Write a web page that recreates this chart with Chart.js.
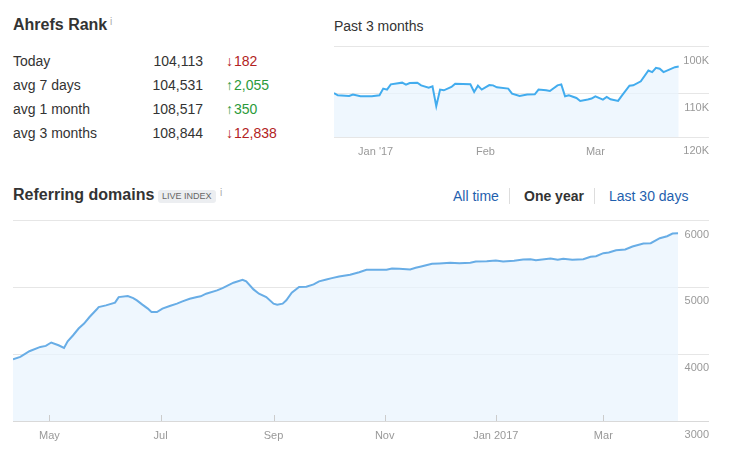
<!DOCTYPE html>
<html><head><meta charset="utf-8">
<script src="https://cdn.jsdelivr.net/npm/chart.js@4.4.1/dist/chart.umd.min.js"></script>
<style>
html,body{margin:0;padding:0;background:#fff;}
body{width:730px;height:455px;position:relative;overflow:hidden;font-family:"Liberation Sans",Arial,Helvetica,sans-serif;color:#333;}
.t{position:absolute;white-space:nowrap;height:20px;line-height:20px;}
.h{font-size:16px;font-weight:bold;color:#333;}
.info{position:absolute;font-size:10px;color:#aaa;line-height:10px;}
.row{font-size:14px;}
.val{text-align:right;}
.up{color:#2b9a3b;}
.down{color:#b22222;}
.arr{font-size:14px;margin-right:1px;}
.badge{position:absolute;left:158px;top:190px;height:13px;line-height:13px;padding:0 4px;background:#eceef1;color:#666;font-size:9px;border-radius:3px;}
.nav{font-size:14px;color:#1f5fae;}
.sep{position:absolute;width:1px;height:16px;top:188px;background:#ddd;}
canvas{position:absolute;}
</style></head>
<body>
<div class="t h" style="left:13px;top:15px;">Ahrefs Rank</div>
<div class="info" style="left:110px;top:17px;">i</div>
<div id="tbl"></div>

<div class="t" style="left:334px;top:16px;font-size:14px;">Past 3 months</div>
<canvas id="rank" width="375" height="125" style="left:334px;top:40px;width:375px;height:125px;"></canvas>

<div class="t h" style="left:13px;top:185px;">Referring domains</div>
<div class="badge">LIVE INDEX</div>
<div class="info" style="left:220px;top:188px;">i</div>
<div class="t nav" style="left:453px;top:186px;">All time</div>
<div class="sep" style="left:509px;"></div>
<div class="t nav" style="left:524px;top:186px;color:#333;font-weight:bold;">One year</div>
<div class="sep" style="left:594px;"></div>
<div class="t nav" style="left:609px;top:186px;">Last 30 days</div>
<canvas id="rd" width="696" height="241" style="left:13px;top:214px;width:696px;height:241px;"></canvas>

<script>
// ---- Ahrefs Rank table ----
const rankRowLabels = ['Today', 'avg 7 days', 'avg 1 month', 'avg 3 months'];
const rankRowValues = [104113, 104531, 108517, 108844];
const rankRowChanges = [-182, 2055, 350, -12838];

// ---- Past 3 months (Ahrefs rank) ----
const rankDays = [0,1,4,5,7,10,12,13,14,15,18,19,20,22,23,25,26,27,28,29,31,32,36,37,38,39,41,42,43,46,47,49,51,53,54,56,57,59,60,61,62,64,65,67,68,69,71,72,73,75,76,78,79,81,83,84,85,86,87,90,91];
const rankValues = [109810,110320,110470,110160,110540,110540,110320,108840,109060,107910,107540,107970,107630,107540,108130,108630,108340,112770,109060,109220,108490,107760,107910,109590,108190,109060,108060,108130,108560,108840,109940,110470,110160,110090,109060,109220,109370,108130,107910,110540,110320,110910,111580,111270,111050,110540,111270,110690,111200,111580,110380,108190,108130,107260,104930,105280,104360,104570,105280,104230,104113];
const rankTickDays = [11, 40, 69];
const rankTickLabels = ["Jan '17", 'Feb', 'Mar'];
const rankYTicks = [100000, 110000, 120000];
const rankYLabels = ['100K', '110K', '120K'];

// ---- Referring domains (one year, day offsets from 2016-04-11) ----
const rdDays = [0,4,9,15,18,21,25,28,30,33,36,39,42,46,47,51,56,58,63,66,68,71,74,76,79,82,86,90,93,97,101,103,106,112,115,121,126,128,132,135,139,143,145,148,150,153,157,161,165,168,172,175,179,185,190,194,200,205,208,212,218,221,224,230,234,240,245,251,254,260,265,269,275,280,284,287,295,299,302,307,313,317,320,324,327,331,336,340,346,350,355,359,362,365];
const rdValues = [3925,3960,4045,4109,4124,4175,4134,4094,4194,4284,4384,4458,4557,4672,4706,4731,4772,4855,4870,4840,4806,4742,4682,4631,4631,4682,4721,4757,4791,4831,4855,4866,4906,4955,4990,5070,5115,5090,4970,4906,4855,4757,4742,4757,4806,4921,5005,5010,5045,5090,5119,5139,5164,5189,5228,5264,5264,5264,5284,5279,5269,5294,5313,5353,5358,5369,5363,5369,5388,5393,5403,5388,5399,5418,5422,5407,5433,5413,5428,5413,5422,5458,5467,5512,5522,5557,5567,5612,5657,5661,5736,5766,5806,5810];
const rdTickDays = [20, 81, 143, 204, 265, 324];
const rdTickLabels = ['May', 'Jul', 'Sep', 'Nov', 'Jan 2017', 'Mar'];
const rdYTicks = [3000, 4000, 5000, 6000];
const rdYLabels = ['3000', '4000', '5000', '6000'];

// build table
const tbl = document.getElementById('tbl');
rankRowLabels.forEach((lab, i) => {
  const top = 51 + 24 * i;
  const fmt = n => n.toLocaleString('en-US');
  const ch = rankRowChanges[i];
  tbl.insertAdjacentHTML('beforeend',
    `<div class="t row" style="left:13px;top:${top}px;">${lab}</div>` +
    `<div class="t row val" style="right:${730-203}px;top:${top}px;">${fmt(rankRowValues[i])}</div>` +
    `<div class="t row ${ch < 0 ? 'down' : 'up'}" style="left:226px;top:${top}px;"><span class="arr">${ch < 0 ? '\u2193' : '\u2191'}</span>${fmt(Math.abs(ch))}</div>`);
});

const axisFont = {family: '"Liberation Sans", Arial, sans-serif', size: 11};

const tickMarks = {
  id: 'tickMarks',
  afterDatasetsDraw(chart) {
    const x = chart.scales.x, ctx = chart.ctx, b = chart.chartArea.bottom;
    ctx.save();
    ctx.strokeStyle = '#ccc';
    ctx.lineWidth = 1;
    x.ticks.forEach(t => {
      const px = Math.round(x.getPixelForValue(t.value)) + 0.5;
      ctx.beginPath(); ctx.moveTo(px, b - 6); ctx.lineTo(px, b); ctx.stroke();
    });
    ctx.restore();
  }
};

// small rank chart
new Chart(document.getElementById('rank'), {
  type: 'line',
  data: { datasets: [{
    data: rankDays.map((d, i) => ({x: d, y: rankValues[i]})),
    borderColor: '#42acee', borderWidth: 2,
    backgroundColor: 'rgba(232,243,254,0.7)',
    fill: {value: 120000}, pointRadius: 0, tension: 0
  }]},
  options: {
    responsive: false, animation: false, devicePixelRatio: 1,
    layout: {padding: {top: 6, left: 0, right: 0, bottom: 0}},
    plugins: {legend: {display: false}, tooltip: {enabled: false}},
    scales: {
      x: {
        type: 'linear', min: 0, max: 99,
        grid: {display: false}, border: {display: false},
        afterBuildTicks: s => { s.ticks = rankTickDays.map(v => ({value: v})); },
        afterFit: s => { s.height = 28; },
        ticks: {autoSkip: false, maxRotation: 0, padding: 0, color: '#999', font: axisFont,
          callback: (v, i) => rankTickLabels[i]}
      },
      y: {
        type: 'logarithmic', position: 'right', reverse: true, min: 100000, max: 120000,
        grid: {color: '#e6e6e6', drawTicks: false}, border: {display: false},
        afterBuildTicks: s => { s.ticks = rankYTicks.map(v => ({value: v})); },
        afterFit: s => { s.width = 0; },
        ticks: {mirror: true, padding: 0, labelOffset: 14, color: '#999', font: axisFont,
          callback: (v, i) => rankYLabels[i]}
      }
    }
  }
});

// referring domains chart
new Chart(document.getElementById('rd'), {
  type: 'line',
  data: { datasets: [{
    data: rdDays.map((d, i) => ({x: d, y: rdValues[i]})),
    borderColor: '#68ade6', borderWidth: 2,
    backgroundColor: 'rgba(232,243,254,0.7)',
    fill: {value: 3000}, pointRadius: 0, tension: 0
  }]},
  options: {
    responsive: false, animation: false, devicePixelRatio: 1,
    layout: {padding: {top: 6, left: 0, right: 0, bottom: 0}},
    plugins: {legend: {display: false}, tooltip: {enabled: false}},
    scales: {
      x: {
        type: 'linear', min: 0, max: 382,
        grid: {display: false}, border: {display: false},
        afterBuildTicks: s => { s.ticks = rdTickDays.map(v => ({value: v})); },
        afterFit: s => { s.height = 34; },
        ticks: {autoSkip: false, maxRotation: 0, padding: 0, color: '#999', font: axisFont,
          callback: (v, i) => rdTickLabels[i]}
      },
      y: {
        position: 'right', min: 3000, max: 6000,
        grid: {color: c => c.tick && c.tick.value === 3000 ? '#d9d9d9' : '#e6e6e6', drawTicks: false},
        border: {display: false},
        afterBuildTicks: s => { s.ticks = rdYTicks.map(v => ({value: v})); },
        afterFit: s => { s.width = 0; },
        ticks: {mirror: true, padding: 0, labelOffset: 14, color: '#999', font: axisFont,
          callback: (v, i) => rdYLabels[i]}
      }
    }
  },
  plugins: [tickMarks]
});
</script>
</body></html>
